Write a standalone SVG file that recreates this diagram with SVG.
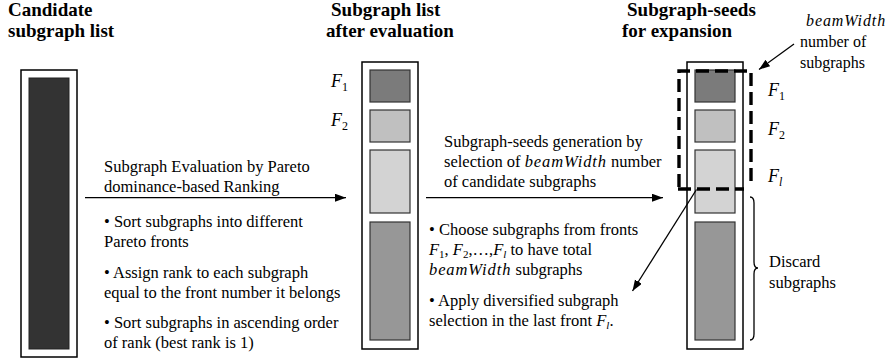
<svg xmlns="http://www.w3.org/2000/svg" width="886" height="362" viewBox="0 0 886 362">
<style>
  .hdr{font-family:"Liberation Serif","Times New Roman",serif;font-weight:bold;font-size:19px;fill:#000}
  .txt{font-family:"Liberation Serif","Times New Roman",serif;font-size:16.5px;fill:#000}
  .lbl{font-family:"Liberation Serif","Times New Roman",serif;font-size:16px;fill:#000}
  .fl{font-family:"Liberation Serif","Times New Roman",serif;font-style:italic;font-size:18px;fill:#000}
  .sub{font-style:normal;font-size:12px}
  .it{font-style:italic}
  .bw{font-style:italic;letter-spacing:0.9px}
  .outer{fill:#fff;stroke:#000;stroke-width:1.5}
  .box{stroke:#333;stroke-width:1.2}
  .c1{fill:#7b7b7b}.c2{fill:#c0c0c0}.c3{fill:#d3d3d3}.c4{fill:#979797}
  .line{stroke:#000;stroke-width:1.3;fill:none}
  .dash{stroke:#000;stroke-width:3.4;fill:none;stroke-dasharray:13 6}
</style>
<defs>
  <marker id="ah" markerUnits="userSpaceOnUse" markerWidth="12" markerHeight="10" refX="11" refY="4" orient="auto">
    <path d="M0,0 L11,4 L0,8 Z" fill="#000"/>
  </marker>
</defs>

<g id="candidate-list">
  <text class="hdr" x="8" y="16">Candidate</text>
  <text class="hdr" x="8" y="37">subgraph list</text>
  <rect class="outer" x="21" y="70" width="56" height="287"/>
  <rect x="29" y="78" width="40" height="271" fill="#333" stroke="#222" stroke-width="1"/>
</g>

<g id="evaluated-list">
  <text class="hdr" x="331" y="15.5">Subgraph list</text>
  <text class="hdr" x="326" y="37">after evaluation</text>
  <rect class="outer" x="362" y="62" width="56" height="287"/>
  <rect class="box c1" x="370" y="70" width="40" height="32"/>
  <rect class="box c2" x="370" y="110" width="40" height="32"/>
  <rect class="box c3" x="370" y="150" width="40" height="63"/>
  <rect class="box c4" x="370" y="222" width="40" height="118"/>
  <text class="fl" x="331" y="87">F<tspan class="sub" dy="4">1</tspan></text>
  <text class="fl" x="331" y="126">F<tspan class="sub" dy="4">2</tspan></text>
</g>

<g id="seed-list">
  <text class="hdr" x="627" y="15.5">Subgraph-seeds</text>
  <text class="hdr" x="622" y="37">for expansion</text>
  <rect class="outer" x="687" y="62" width="56" height="287"/>
  <rect class="box c1" x="695" y="70" width="40" height="32"/>
  <rect class="box c2" x="695" y="110" width="40" height="32"/>
  <rect class="box c3" x="695" y="150" width="40" height="63"/>
  <rect class="box c4" x="695" y="222" width="40" height="118"/>
  <text class="fl" x="768" y="96">F<tspan class="sub" dy="4">1</tspan></text>
  <text class="fl" x="768" y="135">F<tspan class="sub" dy="4">2</tspan></text>
  <text class="fl" x="768" y="182">F<tspan class="sub it" dy="4">l</tspan></text>
</g>

<g id="beam-selection">
  <path class="dash" d="M679,187 V71 H751 V187"/>
  <path class="dash" d="M678,189 H744"/>
</g>

<g id="beam-label">
  <text class="lbl bw" x="806" y="26">beamWidth</text>
  <text class="lbl" x="800" y="47">number of</text>
  <text class="lbl" x="800" y="68">subgraphs</text>
</g>

<g id="discard">
  <path class="line" d="M750,197 Q754,197 754,203 V262 Q754,268 758,268 Q754,268 754,274 V334 Q754,340 750,340"/>
  <text class="txt" x="769" y="267">Discard</text>
  <text class="txt" x="769" y="287.5">subgraphs</text>
</g>

<g id="evaluation-step">
  <text class="txt" x="104" y="172">Subgraph Evaluation by Pareto</text>
  <text class="txt" x="104" y="191.5">dominance-based Ranking</text>
  <text class="txt" x="104" y="226.5">• Sort subgraphs into different</text>
  <text class="txt" x="104" y="246.5">Pareto fronts</text>
  <text class="txt" x="104" y="277.5">• Assign rank to each subgraph</text>
  <text class="txt" x="104" y="297.5">equal to the front number it belongs</text>
  <text class="txt" x="104" y="327.5">• Sort subgraphs in ascending order</text>
  <text class="txt" x="104" y="347.5">of rank (best rank is 1)</text>
</g>

<g id="seed-step">
  <text class="txt" x="444" y="147">Subgraph-seeds generation by</text>
  <text class="txt" x="444" y="167">selection of <tspan class="bw">beamWidth</tspan> number</text>
  <text class="txt" x="444" y="187">of candidate subgraphs</text>
  <text class="txt" x="429" y="235">• Choose subgraphs from fronts</text>
  <text class="txt" x="429" y="255"><tspan class="it">F</tspan><tspan font-size="11" dy="3">1</tspan><tspan dy="-3">, </tspan><tspan class="it">F</tspan><tspan font-size="11" dy="3">2</tspan><tspan dy="-3">,…,</tspan><tspan class="it">F</tspan><tspan class="it" font-size="11" dy="3">l</tspan><tspan dy="-3"> to have total</tspan></text>
  <text class="txt" x="429" y="275"><tspan class="bw">beamWidth</tspan> subgraphs</text>
  <text class="txt" x="429" y="305.5">• Apply diversified subgraph</text>
  <text class="txt" x="429" y="325.5">selection in the last front <tspan class="it">F</tspan><tspan class="it" font-size="11" dy="3">l</tspan><tspan dy="-3">.</tspan></text>
</g>

<g id="connectors">
  <line class="line" x1="85" y1="197.7" x2="346" y2="197.7" marker-end="url(#ah)"/>
  <line class="line" x1="426" y1="197.7" x2="663" y2="197.7" marker-end="url(#ah)"/>
  <line class="line" x1="696.5" y1="189.5" x2="632.5" y2="291" marker-end="url(#ah)"/>
  <line class="line" x1="794" y1="44" x2="759" y2="69.5" marker-end="url(#ah)"/>
</g>
</svg>
